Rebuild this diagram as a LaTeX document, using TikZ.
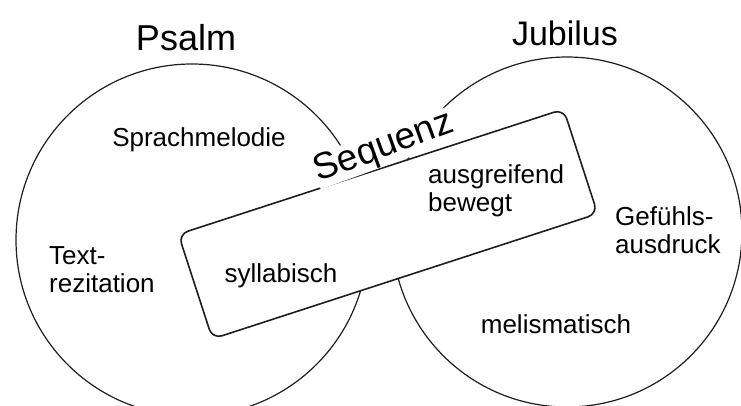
\documentclass[tikz,border=0pt]{standalone}
\usepackage{fontspec}
\setmainfont{Liberation Sans}
\definecolor{ink}{HTML}{1E1E1E}
\begin{document}
\begin{tikzpicture}[x=1pt,y=-1pt,
  ring/.style={circle, draw=ink, line width=1.2pt, minimum size=#1, inner sep=0pt},
  bandbox/.style={draw=ink, fill=white, line width=1.6pt, rounded corners=10pt,
    minimum width=405pt, minimum height=110pt, inner sep=0pt},
  title/.style={font=\fontsize{36}{40}\selectfont, inner sep=0pt, text=black},
  lbl/.style={font=\fontsize{26}{28}\selectfont, inner sep=0pt, text=black},
  mlbl/.style={lbl, align=left, anchor=north west},
  seqlbl/.style={font=\fontsize{37}{40}\selectfont, fill=white, inner sep=0.5pt, text=black}
]
\useasboundingbox (0,0) rectangle (741,406);
\fill[white] (0,0) rectangle (741,406);
\clip (0,0) rectangle (741,406);

\node[ring=352pt] (psalmring) at (192,240) {};
\node[ring=350pt] (jubring) at (567,232) {};

\node[bandbox, rotate=18] (band) at (388,224) {};
\node[seqlbl, rotate=20] (sequenz) at (384,148) {Sequenz};

\node[title, anchor=base] (psalm) at (186,51) {Psalm};
\node[title, anchor=base, font=\fontsize{34}{38}\selectfont] (jubilus) at (565,46) {Jubilus};

\node[lbl, anchor=base] (sprach) at (199,147) {Sprachmelodie};
\node[mlbl] (textrez) at (49,246.5) {Text-\\rezitation};
\node[lbl, anchor=base] (syll) at (281,282) {syllabisch};
\node[mlbl] (ausgr) at (428,164) {ausgreifend\\bewegt};
\node[mlbl] (gefuehl) at (615,206) {Gefühls-\\ausdruck};
\node[lbl, anchor=base] (melis) at (556,333) {melismatisch};
\end{tikzpicture}
\end{document}
